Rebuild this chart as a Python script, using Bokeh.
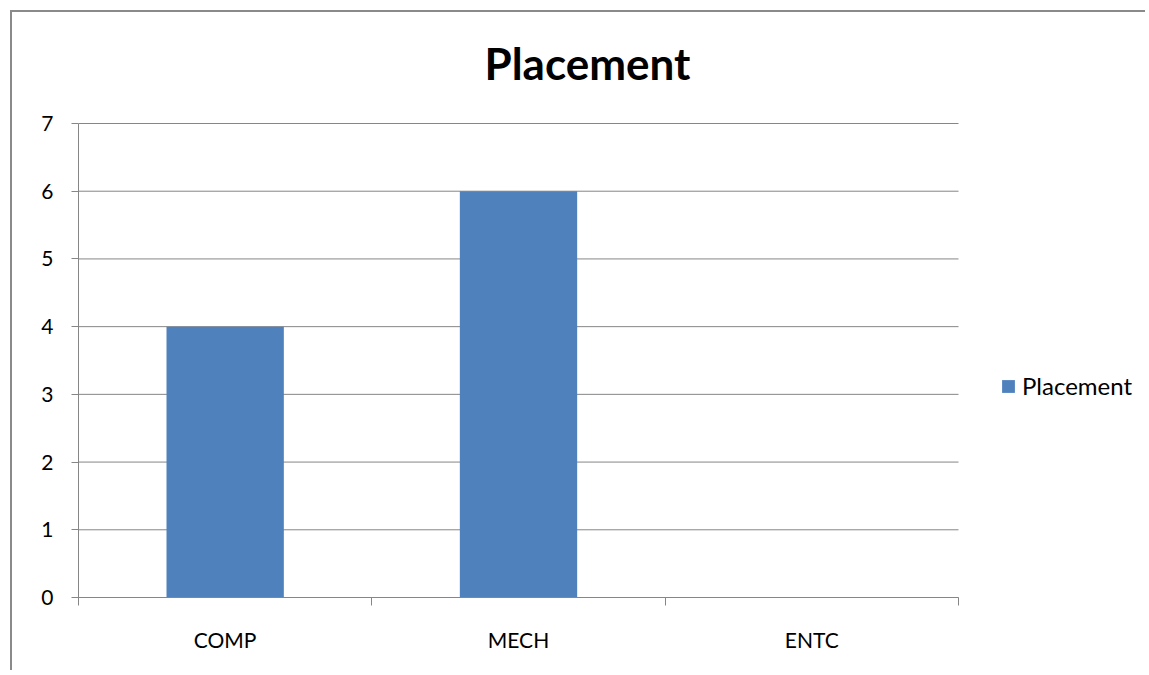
from bokeh.plotting import figure
from bokeh.models import ColumnDataSource, FixedTicker, Legend, LegendItem, Label, Range1d
from bokeh.embed import file_html
from bokeh.resources import INLINE

categories = ["COMP", "MECH", "ENTC"]
values = [4, 6, 0]
y_ticks = [0, 1, 2, 3, 4, 5, 6, 7]
y_max = 7
series_name = "Placement"
chart_title = "Placement"

FONT = "Lato"
GRAY = "#868686"
BAR = "#4F81BD"

# layout (pixels)
CONTENT_W = 1135
CONTENT_H = 660
BORDER_L = 66
BORDER_B = 75
AXIS_W = 880           # width of the category area in pixels
AXIS_H = 474           # height of the value axis in pixels
FRAME_W = CONTENT_W - BORDER_L
FRAME_H = CONTENT_H - BORDER_B
n = len(categories)
x_end = n * FRAME_W / AXIS_W
y_end = y_max * FRAME_H / AXIS_H

xs = [i + 0.5 for i in range(n)]
src = ColumnDataSource(dict(x=xs, top=values, cat=categories))
grid_src = ColumnDataSource(dict(x0=[0] * len(y_ticks), x1=[n] * len(y_ticks), y=y_ticks))

p = figure(width=CONTENT_W, height=CONTENT_H, output_backend="svg", toolbar_location=None,
           x_range=Range1d(0, x_end), y_range=Range1d(0, y_end),
           min_border_left=BORDER_L, min_border_right=0, min_border_top=0, min_border_bottom=BORDER_B)
p.title = None
p.outline_line_color = None
p.margin = (10, 0, 0, 10)
p.styles = {"border-left": "2px solid #8a8a8a", "border-top": "2px solid #8a8a8a"}

p.xgrid.grid_line_color = None
p.ygrid.grid_line_color = None
p.segment(x0="x0", x1="x1", y0="y", y1="y", source=grid_src, line_color=GRAY, line_width=1)

r = p.vbar(x="x", top="top", width=0.4, bottom=0, source=src, fill_color=BAR, line_color=None)

title = Label(x=509, y=535, x_units="screen", y_units="screen", text=chart_title,
              text_font=FONT, text_font_size="44px", text_font_style="bold",
              text_color="#000000", text_align="center", text_baseline="alphabetic")
p.add_layout(title)

# y axis
p.yaxis.bounds = (0, y_max)
p.yaxis.ticker = FixedTicker(ticks=y_ticks)
p.yaxis.axis_line_color = GRAY
p.yaxis.major_tick_line_color = GRAY
p.yaxis.major_tick_out = 7
p.yaxis.major_tick_in = 0
p.yaxis.minor_tick_line_color = None
p.yaxis.major_label_text_font = FONT
p.yaxis.major_label_text_font_size = "21px"
p.yaxis.major_label_text_color = "#000000"
p.yaxis.major_label_standoff = 18

# x axis
p.xaxis.bounds = (0, n)
p.xaxis.ticker = FixedTicker(ticks=xs, minor_ticks=list(range(n + 1)))
p.xaxis.major_label_overrides = {x: c for x, c in zip(xs, categories)}
p.xaxis.axis_line_color = GRAY
p.xaxis.major_tick_line_color = None
p.xaxis.major_tick_out = 0
p.xaxis.major_tick_in = 0
p.xaxis.minor_tick_line_color = GRAY
p.xaxis.minor_tick_out = 8
p.xaxis.minor_tick_in = 0
p.xaxis.major_label_text_font = FONT
p.xaxis.major_label_text_font_size = "21px"
p.xaxis.major_label_text_color = "#000000"
p.xaxis.major_label_standoff = 21

leg = Legend(items=[LegendItem(label=series_name, renderers=[r])], location=(922, 197),
             padding=0, margin=0, border_line_color=None, background_fill_alpha=0,
             label_text_font=FONT, label_text_font_size="24px", label_standoff=6,
             label_text_color="#000000", glyph_width=16, glyph_height=16)
p.add_layout(leg, "center")

open("out.html", "w").write(file_html(p, INLINE))
